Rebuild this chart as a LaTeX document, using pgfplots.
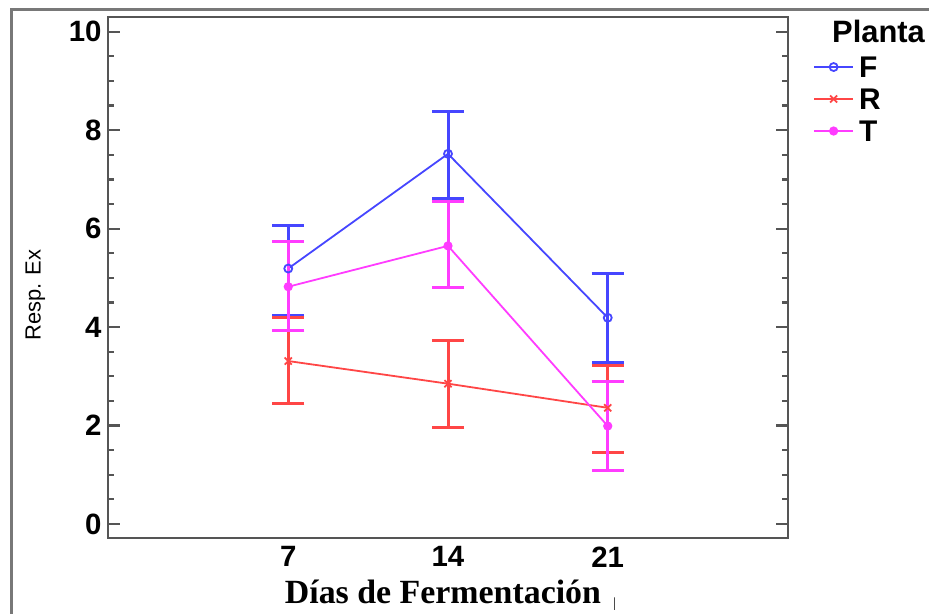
\documentclass[border=0pt]{standalone}
\usepackage{fontspec}
\setmainfont{Liberation Serif}
\setsansfont{Liberation Sans}
\usepackage{pgfplots}
\usepackage{pgfplotstable}
\pgfplotsset{compat=1.18}

\definecolor{cF}{RGB}{70,70,255}
\definecolor{cR}{RGB}{255,70,70}
\definecolor{cT}{RGB}{255,60,255}
\definecolor{axgray}{RGB}{85,85,85}
\definecolor{framegray}{RGB}{120,120,120}

% dias, media, error arriba, error abajo
\pgfplotstableread{
x  y    ep   em
7  5.19 0.88 0.95
14 7.52 0.86 0.90
21 4.19 0.89 0.90
}\plantaF
\pgfplotstableread{
x  y    ep   em
7  3.31 0.88 0.87
14 2.85 0.88 0.89
21 2.36 0.85 0.90
}\plantaR
\pgfplotstableread{
x  y    ep   em
7  4.82 0.91 0.88
14 5.65 0.90 0.85
21 1.99 0.90 0.91
}\plantaT

\begin{document}
\begin{tikzpicture}
\begin{axis}[
  scale only axis,
  width=680bp, height=521bp,
  xmin=-0.9, xmax=28.9,
  ymin=-0.285, ymax=10.3,
  xtick={7,14,21},
  ytick={0,2,4,6,8,10},
  minor y tick num=3,
  tick align=inside,
  xtick pos=bottom,
  ytick pos=both,
  x tick style={draw=none},
  major tick length=12bp,
  minor tick length=6bp,
  every tick/.style={axgray, line width=2.2bp},
  axis line style={axgray, line width=2.5bp},
  tick label style={font=\fontsize{29.5}{29.5}\selectfont\sffamily\bfseries},
  /pgf/number format/assume math mode=true,
  yticklabel style={xshift=-3bp},
  xticklabel style={yshift=-5bp},
  xlabel={Días de Fermentación},
  xlabel style={font=\fontsize{34}{34}\selectfont\bfseries,
    at={(rel axis cs:0.4926,-0.1248)}, anchor=base},
  ylabel={Resp. Ex},
  ylabel style={font=\fontsize{22}{22}\selectfont\sffamily,
    at={(rel axis cs:-0.107,0.466)}, anchor=center},
  clip=false,
  legend style={at={(rel axis cs:1.0368,0.9245)}, anchor=north west,
    draw=none, fill=none, inner sep=0bp, row sep=11bp,
    font=\fontsize{30}{30}\selectfont\sffamily\bfseries,
    nodes={inner ysep=0bp, inner xsep=5bp, text height=21bp, text depth=0bp}},
  legend cell align=left,
  legend image code/.code={
    \draw[mark repeat=2,mark phase=2,#1]
      plot coordinates {(0bp,0bp) (19.5bp,0bp) (39bp,0bp)};},
  error bars/y dir=both,
  error bars/y explicit,
]
\addplot[cF, line width=1.8bp, mark=o, mark size=4bp,
  mark options={line width=1.8bp},
  error bars/error bar style={line width=3bp, cF},
  error bars/error mark options={rotate=90, mark size=16bp, line width=3bp, cF}]
  table[x=x, y=y, y error plus=ep, y error minus=em] {\plantaF};
\addlegendentry{F}
\addplot[cR, line width=1.8bp, mark=x, mark size=5bp,
  mark options={line width=1.8bp},
  error bars/error bar style={line width=3bp, cR},
  error bars/error mark options={rotate=90, mark size=16bp, line width=3bp, cR}]
  table[x=x, y=y, y error plus=ep, y error minus=em] {\plantaR};
\addlegendentry{R}
\addplot[cT, line width=1.8bp, mark=*, mark size=4bp,
  mark options={line width=1.2bp},
  error bars/error bar style={line width=3bp, cT},
  error bars/error mark options={rotate=90, mark size=16bp, line width=3bp, cT}]
  table[x=x, y=y, y error plus=ep, y error minus=em] {\plantaT};
\addlegendentry{T}
\node[anchor=base west, inner sep=0pt,
  font=\fontsize{31}{31}\selectfont\sffamily\bfseries]
  at (rel axis cs:1.0647,0.952) {Planta};
\node[anchor=base west, inner sep=0pt, font=\fontsize{14}{14}\selectfont]
  at (rel axis cs:0.743,-0.1325) {|};
\end{axis}
% marco exterior
\draw[framegray, line width=3bp]
  ([shift={(-96bp,-90bp)}]current axis.south west)
  -- ([shift={(-96bp,528bp)}]current axis.south west)
  -- ([shift={(840bp,528bp)}]current axis.south west);
\pgfresetboundingbox
\path[use as bounding box]
  ([shift={(-108bp,-76bp)}]current axis.south west)
  rectangle ([shift={(821bp,538bp)}]current axis.south west);
\end{tikzpicture}
\end{document}
